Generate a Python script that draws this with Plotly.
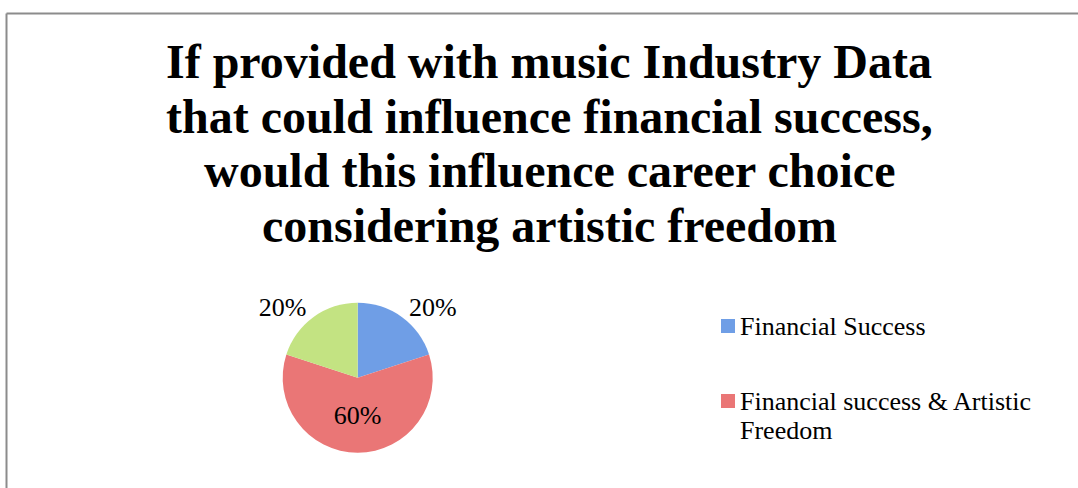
import plotly.graph_objects as go

W, H = 1078, 488

# Survey answers and their shares
labels = ["Financial Success", "Financial success & Artistic Freedom", "Artistic Freedom"]
shares = [20, 60, 20]
colors = ["#6f9ee6", "#ea7676", "#c3e382"]

title_lines = [
    "If provided with music Industry Data",
    "that could influence financial success,",
    "would this influence career choice",
    "considering artistic freedom",
]

# Legend label text, wrapped as displayed
legend_text = [
    ["Financial Success"],
    ["Financial success & Artistic", "Freedom"],
]

SERIF = "Liberation Serif, Times New Roman, serif"


def px_x(v):
    return v / W


def px_y(v):
    return 1 - v / H


# Pie centre and radius in pixels
cx, cy, r = 357.7, 377.7, 75

fig = go.Figure()

fig.add_trace(go.Pie(
    labels=labels,
    values=shares,
    sort=False,
    direction="clockwise",
    rotation=0,
    marker=dict(colors=colors, line=dict(width=0)),
    texttemplate="%{percent:.0%}",
    textposition=["outside", "inside", "outside"],
    insidetextorientation="horizontal",
    textfont=dict(family=SERIF, size=26, color="black"),
    domain=dict(x=[px_x(cx - r), px_x(cx + r)], y=[px_y(cy + r), px_y(cy - r)]),
    showlegend=False,
    hole=0,
))

annotations = []
shapes = []

# Title, one annotation per line for tight line spacing
baselines = [77.7, 133.0, 186.7, 241.7]
for line, base in zip(title_lines, baselines):
    annotations.append(dict(
        text="<b>%s</b>" % line, x=px_x(549), y=px_y(base + 12),
        xref="paper", yref="paper", xanchor="center", yanchor="bottom",
        showarrow=False, font=dict(family=SERIF, size=48, color="black"),
    ))

# Legend: colour key plus label lines (29 px line pitch)
legend_tops = [319, 394]
for top, lines, col in zip(legend_tops, legend_text, colors):
    shapes.append(dict(
        type="rect", xref="paper", yref="paper",
        x0=px_x(721), x1=px_x(735), y0=px_y(top + 14), y1=px_y(top),
        fillcolor=col, line=dict(width=0),
    ))
    for i, line in enumerate(lines):
        annotations.append(dict(
            text=line, x=px_x(738), y=px_y(top + 7 + 29 * i),
            xref="paper", yref="paper", xanchor="left", yanchor="middle",
            align="left", showarrow=False,
            font=dict(family=SERIF, size=26, color="black"),
        ))

# Chart-area border (top and left edges visible)
shapes.append(dict(type="line", xref="paper", yref="paper",
                   x0=px_x(6.5), x1=1.0, y0=px_y(13.5), y1=px_y(13.5),
                   line=dict(color="#8c8c8c", width=2)))
shapes.append(dict(type="line", xref="paper", yref="paper",
                   x0=px_x(6.5), x1=px_x(6.5), y0=0.0, y1=px_y(13.5),
                   line=dict(color="#8c8c8c", width=2)))

fig.update_layout(
    width=W, height=H,
    margin=dict(l=0, r=0, t=0, b=0),
    paper_bgcolor="white",
    plot_bgcolor="white",
    annotations=annotations,
    shapes=shapes,
)

fig.write_html("out.html")
